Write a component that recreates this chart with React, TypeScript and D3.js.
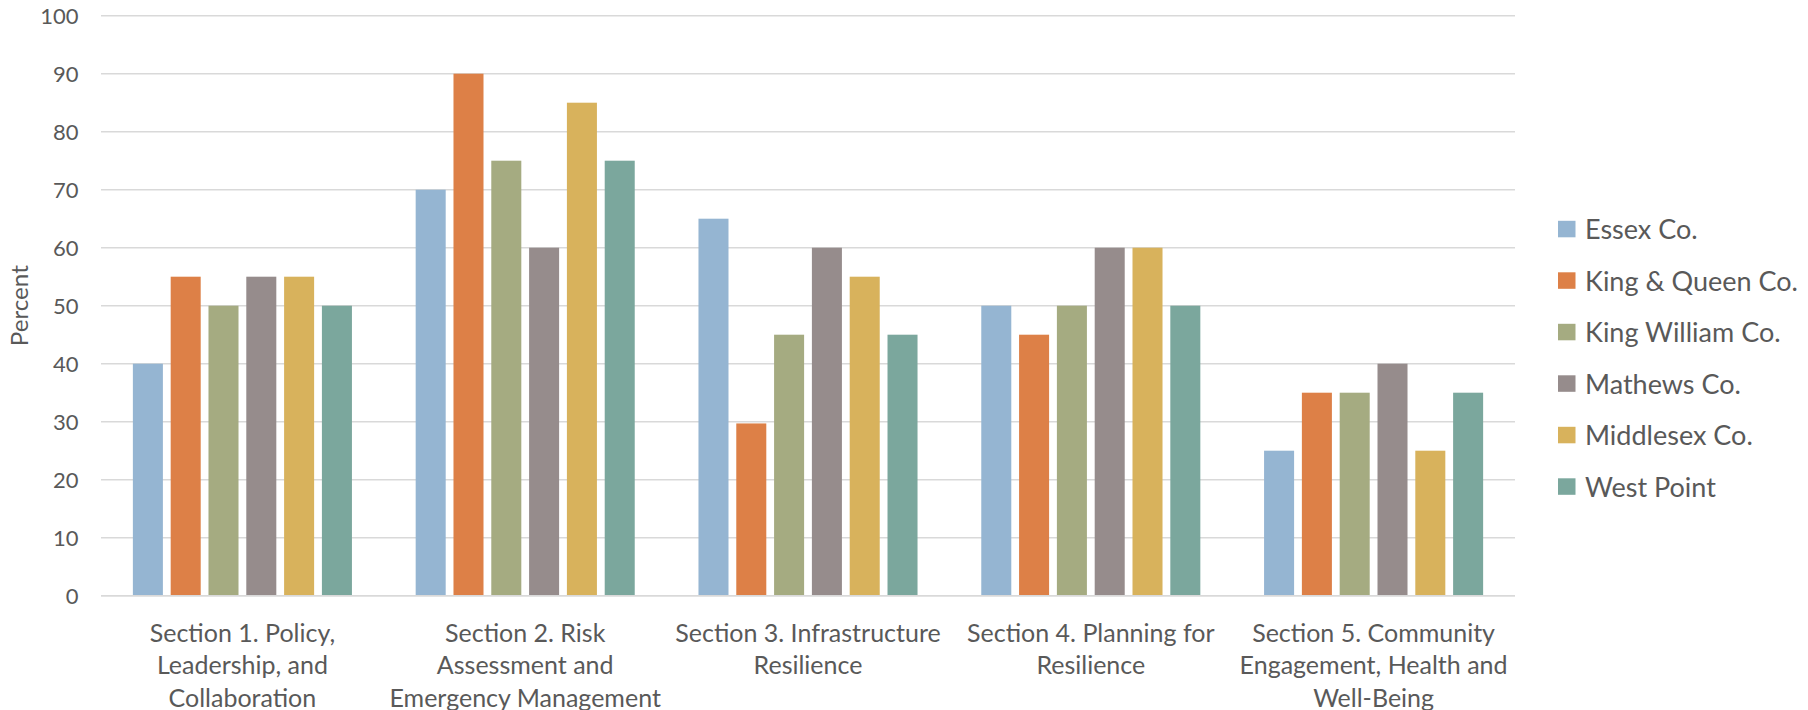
import React from "react";
import * as d3 from "d3";

const categories = [
  "Section 1. Policy, Leadership, and Collaboration",
  "Section 2. Risk Assessment and Emergency Management",
  "Section 3. Infrastructure Resilience",
  "Section 4. Planning for Resilience",
  "Section 5. Community Engagement, Health and Well-Being",
];

const categoryLines = [
  ["Section 1. Policy,", "Leadership, and", "Collaboration"],
  ["Section 2. Risk", "Assessment and", "Emergency Management"],
  ["Section 3. Infrastructure", "Resilience"],
  ["Section 4. Planning for", "Resilience"],
  ["Section 5. Community", "Engagement, Health and", "Well-Being"],
];

const seriesNames = [
  "Essex Co.",
  "King & Queen Co.",
  "King William Co.",
  "Mathews Co.",
  "Middlesex Co.",
  "West Point",
];

const essex = [40, 70, 65, 50, 25];
const kingQueen = [55, 90, 29.7, 45, 35];
const kingWilliam = [50, 75, 45, 50, 35];
const mathews = [55, 60, 60, 60, 40];
const middlesex = [55, 85, 55, 60, 25];
const westPoint = [50, 75, 45, 50, 35];

const seriesValues = [essex, kingQueen, kingWilliam, mathews, middlesex, westPoint];

const colors = ["#95B5D2", "#DD8047", "#A5AB81", "#968C8C", "#D8B25C", "#7BA79D"];

const yTicks = [0, 10, 20, 30, 40, 50, 60, 70, 80, 90, 100];

const W = 1808;
const H = 710;
const FONT = "Lato, 'Open Sans', sans-serif";
const TEXT = "#595959";

export default function App() {
  const left = 101;
  const right = 1515;
  const top = 15.7;
  const bottom = 595.7;

  const x0 = d3.scaleBand<number>().domain(d3.range(categories.length)).range([left, right]).padding(0);
  const x1 = d3
    .scaleBand<number>()
    .domain(d3.range(seriesNames.length))
    .range([0, x0.bandwidth()])
    .paddingInner(0.206)
    .paddingOuter(0.843);
  const y = d3.scaleLinear().domain([0, 100]).range([bottom, top]);

  return (
    <svg
      width={W}
      height={H}
      style={{ position: "absolute", left: 0, top: 0, background: "#fff" }}
      fontFamily={FONT}
    >
      <rect x={0} y={0} width={W} height={H} fill="#fff" />
      {yTicks.map((t) => (
        <g key={t}>
          <line x1={left} x2={right} y1={y(t)} y2={y(t)} stroke="#D9D9D9" strokeWidth={1.6} />
          <text x={78.5} y={y(t)} dy="0.36em" textAnchor="end" fontSize={22} fill={TEXT}>
            {t}
          </text>
        </g>
      ))}
      {categories.map((c, ci) => (
        <g key={c}>
          {seriesValues.map((vals, si) => (
            <rect
              key={si}
              x={(x0(ci) as number) + (x1(si) as number)}
              y={y(vals[ci])}
              width={x1.bandwidth()}
              height={y(0) - y(vals[ci])}
              fill={colors[si]}
            />
          ))}
        </g>
      ))}
      <line x1={left} x2={right} y1={y(0)} y2={y(0)} stroke="#D9D9D9" strokeWidth={1.6} />
      {categoryLines.map((lines, ci) => (
        <text
          key={ci}
          x={(x0(ci) as number) + x0.bandwidth() / 2}
          textAnchor="middle"
          fontSize={25}
          fill={TEXT}
        >
          {lines.map((l, li) => (
            <tspan key={li} x={(x0(ci) as number) + x0.bandwidth() / 2} y={641.5 + li * 32.5}>
              {l}
            </tspan>
          ))}
        </text>
      ))}
      <text
        transform={`translate(${28.3},${(top + bottom) / 2}) rotate(-90)`}
        x={-40.5}
        textLength={81}
        lengthAdjust="spacingAndGlyphs"
        fontSize={24}
        fill={TEXT}
      >
        Percent
      </text>
      {seriesNames.map((s, si) => (
        <g key={s} transform={`translate(1558,${229.3 + si * 51.5})`}>
          <rect x={0} y={-8.5} width={17.5} height={16.5} fill={colors[si]} />
          <text x={27} y={0} dy="0.36em" fontSize={27} fill={TEXT}>
            {s}
          </text>
        </g>
      ))}
    </svg>
  );
}
